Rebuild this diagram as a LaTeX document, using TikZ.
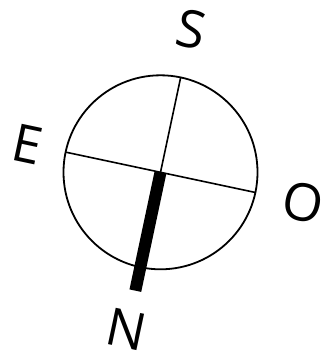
\documentclass[tikz,border=0pt]{standalone}
\usepackage{fontspec}
\setmainfont{Open Sans}
\begin{document}
\begin{tikzpicture}[x=1pt,y=1pt,
  lbl/.style={inner sep=0pt, rotate=-12, font=\fontsize{52}{52}\selectfont},
  thin line/.style={line width=1.6pt}]
\useasboundingbox (0,-358) rectangle (322,0);
\begin{scope}[shift={(160.5,-172.3)}, rotate=-12]
  \coordinate (c) at (0,0);
  \node[circle, draw, line width=1.8pt, minimum size=194pt, inner sep=0pt] (ring) at (c) {};
  \coordinate (s) at (0,96.5);
  \coordinate (e) at (-96.5,0);
  \coordinate (o) at (96.5,0);
  \coordinate (n) at (0,-121);
  \draw[thin line] (e) -- (o);
  \draw[thin line] (c) -- (s);
  \draw[line width=12pt] (c) -- (n);
  \node[lbl] (S) at (0,146) {S};
  \node[lbl] (E) at (-136,0) {E};
  \node[lbl] (O) at (146,0) {O};
  \node[lbl] (N) at (0,-161) {N};
\end{scope}
\end{tikzpicture}
\end{document}
